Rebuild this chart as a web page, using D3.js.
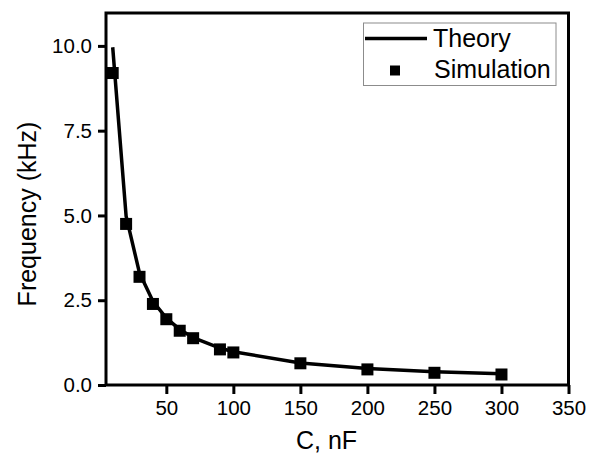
<!DOCTYPE html>
<html>
<head>
<meta charset="utf-8">
<script src="https://cdn.jsdelivr.net/npm/d3@7"></script>
<style>
  html, body { margin: 0; padding: 0; background: #fff; }
  svg { display: block; font-family: "Liberation Sans", Arial, sans-serif; }
</style>
</head>
<body>
<svg id="chart" width="592" height="455"></svg>
<script>
// ---- data ----
const capacitance = [10, 20, 30, 40, 50, 60, 70, 90, 100, 150, 200, 250, 300];
const theory      = [9.96, 4.98, 3.30, 2.47, 1.97, 1.64, 1.40, 1.09, 0.98, 0.65, 0.49, 0.39, 0.33];
const simulation  = [9.20, 4.75, 3.19, 2.39, 1.94, 1.60, 1.38, 1.05, 0.96, 0.64, 0.46, 0.36, 0.31];
const xTicks = [50, 100, 150, 200, 250, 300, 350];
const yTicks = [0, 2.5, 5, 7.5, 10];
const xTitle = "C, nF";
const yTitle = "Frequency (kHz)";
const legendLabels = ["Theory", "Simulation"];

// ---- layout ----
const svg = d3.select("#chart");
const L = 106, R = 568.5, T = 13, B = 385;
const x = d3.scaleLinear().domain([5, 350]).range([L, R]);
const y = d3.scaleLinear().domain([0, 10.97]).range([B, T]);

const tickFont = "20.5px";

// x axis
const xAxis = svg.append("g").attr("transform", `translate(0,${B})`)
  .call(d3.axisBottom(x).tickValues(xTicks).tickFormat(d3.format("d")).tickSize(9).tickSizeOuter(0).tickPadding(6));
xAxis.select(".domain").remove();
xAxis.selectAll("line").attr("stroke", "#000").attr("stroke-width", 3);
xAxis.selectAll("text").attr("font-size", tickFont).attr("fill", "#000")
  .attr("font-family", "Liberation Sans, Arial, sans-serif");

// y axis
const yAxis = svg.append("g").attr("transform", `translate(${L},0)`)
  .call(d3.axisLeft(y).tickValues(yTicks).tickFormat(d3.format(".1f")).tickSize(8).tickSizeOuter(0).tickPadding(6));
yAxis.select(".domain").remove();
yAxis.selectAll("line").attr("stroke", "#000").attr("stroke-width", 3);
yAxis.selectAll("text").attr("font-size", tickFont).attr("fill", "#000")
  .attr("font-family", "Liberation Sans, Arial, sans-serif");

// frame
svg.append("rect").attr("x", L).attr("y", T).attr("width", R - L).attr("height", B - T)
  .attr("fill", "none").attr("stroke", "#000").attr("stroke-width", 3);

// theory line
const pts = capacitance.map((c, i) => ({c, t: theory[i], s: simulation[i]}));
svg.append("path").datum(pts)
  .attr("fill", "none").attr("stroke", "#000").attr("stroke-width", 3.5)
  .attr("stroke-linejoin", "round")
  .attr("d", d3.line().x(d => x(d.c)).y(d => y(d.t)));

// simulation squares
const sq = 12;
svg.append("g").selectAll("rect").data(pts).join("rect")
  .attr("x", d => x(d.c) - sq / 2).attr("y", d => y(d.s) - sq / 2)
  .attr("width", sq).attr("height", sq).attr("fill", "#000");

// axis titles
svg.append("text").attr("x", 326.5).attr("y", 449).attr("text-anchor", "middle")
  .attr("font-size", "25px").attr("fill", "#000").text(xTitle);
svg.append("text").attr("transform", "translate(36,214) rotate(-90)").attr("text-anchor", "middle")
  .attr("font-size", "25px").attr("fill", "#000").text(yTitle);

// legend
const lg = svg.append("g");
lg.append("rect").attr("x", 363.5).attr("y", 23).attr("width", 192.5).attr("height", 62.5)
  .attr("fill", "#fff").attr("stroke", "#8c8c8c").attr("stroke-width", 1);
lg.append("line").attr("x1", 365).attr("x2", 427).attr("y1", 38.5).attr("y2", 38.5)
  .attr("stroke", "#000").attr("stroke-width", 3.5);
lg.append("text").attr("x", 433).attr("y", 47).attr("font-size", "25px").attr("fill", "#000").text(legendLabels[0]);
lg.append("rect").attr("x", 390).attr("y", 65.5).attr("width", 10).attr("height", 10).attr("fill", "#000");
lg.append("text").attr("x", 434).attr("y", 77.5).attr("font-size", "25px").attr("fill", "#000").text(legendLabels[1]);
</script>
</body>
</html>
